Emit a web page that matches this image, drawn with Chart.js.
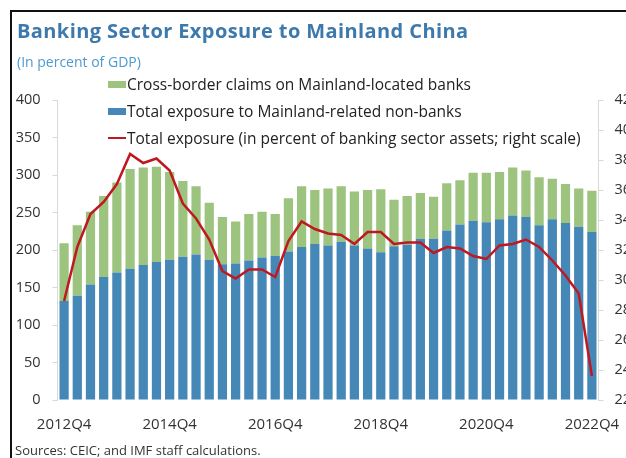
<!DOCTYPE html>
<html>
<head>
<meta charset="utf-8">
<script src="https://cdn.jsdelivr.net/npm/chart.js@4.4.0/dist/chart.umd.min.js"></script>
<style>
  html, body { margin: 0; padding: 0; background: #fff; }
  body { width: 626px; height: 458px; position: relative; overflow: hidden; font-family: "Open Sans", sans-serif; }
  #frame { position: absolute; left: 10px; top: 10px; width: 700px; height: 500px; border-left: 2px solid #111; border-top: 2px solid #111; box-sizing: border-box; }
  #wrap { position: absolute; left: 0; top: 0; width: 626px; height: 458px; }
  #title { position: absolute; left: 17px; top: 21px; font-size: 20px; line-height: 20px; font-weight: bold; color: #3e79ac; white-space: nowrap; letter-spacing: 0.4px; }
  #subtitle { position: absolute; left: 17px; top: 52px; font-size: 14px; color: #4d9ad0; white-space: nowrap; }
  #legend { position: absolute; left: 108px; top: 74px; font-size: 15.5px; color: #222; }
  .li { position: absolute; left: 0; white-space: nowrap; height: 20px; line-height: 20px; }
  .mk { position: absolute; left: 0; }
  .li span.tx { position: absolute; left: 19px; top: 0; }
  #source { position: absolute; left: 15px; top: 441px; font-size: 13px; color: #333; white-space: nowrap; }
</style>
</head>
<body>
<div id="wrap"><canvas id="c" width="626" height="458"></canvas></div>
<div id="frame"></div>
<div id="title">Banking Sector Exposure to Mainland China</div>
<div id="subtitle">(In percent of GDP)</div>
<div id="legend"></div>
<div id="source">Sources: CEIC; and IMF staff calculations.</div>
<script>
const categories = [
  '2012Q4','2013Q1','2013Q2','2013Q3','2013Q4','2014Q1','2014Q2','2014Q3','2014Q4',
  '2015Q1','2015Q2','2015Q3','2015Q4','2016Q1','2016Q2','2016Q3','2016Q4',
  '2017Q1','2017Q2','2017Q3','2017Q4','2018Q1','2018Q2','2018Q3','2018Q4',
  '2019Q1','2019Q2','2019Q3','2019Q4','2020Q1','2020Q2','2020Q3','2020Q4',
  '2021Q1','2021Q2','2021Q3','2021Q4','2022Q1','2022Q2','2022Q3','2022Q4'
];
const xTickLabels = ['2012Q4','2014Q4','2016Q4','2018Q4','2020Q4','2022Q4'];
const leftTicks = { min: 0, max: 400, step: 50 };
const rightTicks = { min: 22, max: 42, step: 2 };

// Total exposure to Mainland-related non-banks (percent of GDP)
const nonBanks = [132,139,154,164,170,175,180,184,187,191,194,187,181,182,186,190,192,
  198,204,208,206,211,206,202,197,205,207,215,215,226,234,239,237,241,246,244,233,241,236,231,224];
// Total bar height (non-banks + cross-border), read from bar tops
const totalHeight = [209,233,251,272,290,308,310,311,304,292,285,263,244,238,248,251,248,
  269,285,280,282,285,278,280,281,267,272,276,271,289,293,303,303,304,310,306,297,295,288,282,279];
// Cross-border claims on Mainland-located banks = total minus non-banks
const crossBorder = totalHeight.map((t, i) => t - nonBanks[i]);
// Total exposure in percent of banking sector assets (right scale)
const pctAssets = [28.6,32.2,34.4,35.2,36.4,38.4,37.8,38.1,37.3,35.1,34.1,32.7,30.6,30.1,30.7,30.7,30.2,
  32.6,33.9,33.4,33.1,33.0,32.4,33.2,33.2,32.4,32.5,32.5,31.8,32.2,32.1,31.6,31.4,32.3,32.4,32.7,32.2,31.3,30.3,29.1,23.6];

const colBlue = '#4587b6';
const colGreen = '#9cc47f';
const colRed = '#bf1820';

const chart = new Chart(document.getElementById('c'), {
  data: {
    labels: categories,
    datasets: [
      { type: 'bar', label: 'Total exposure to Mainland-related non-banks', data: nonBanks,
        backgroundColor: colBlue, yAxisID: 'y', stack: 's', order: 2,
        barPercentage: 0.7, categoryPercentage: 1.0 },
      { type: 'bar', label: 'Cross-border claims on Mainland-located banks', data: crossBorder,
        backgroundColor: colGreen, yAxisID: 'y', stack: 's', order: 2,
        barPercentage: 0.7, categoryPercentage: 1.0 },
      { type: 'line', label: 'Total exposure (in percent of banking sector assets; right scale)', data: pctAssets,
        borderColor: colRed, backgroundColor: colRed, borderWidth: 2.5, pointRadius: 0, tension: 0,
        yAxisID: 'y1', order: 0 }
    ]
  },
  options: {
    responsive: false,
    animation: false,
    devicePixelRatio: 1,
    layout: { padding: { top: 100, bottom: 18, left: 0, right: 0 } },
    plugins: { legend: { display: false }, title: { display: false }, tooltip: { enabled: false } },
    scales: {
      x: {
        stacked: true,
        grid: { display: false },
        border: { display: false },
        ticks: {
          autoSkip: false, maxRotation: 0, minRotation: 0, padding: 8,
          color: '#333', font: { family: 'Open Sans', size: 15 },
          callback: function(v, i) { const l = categories[i]; return xTickLabels.includes(l) ? l : ''; }
        },
        afterFit: s => { s.height = 40; s.paddingLeft = 0; s.paddingRight = 0; }
      },
      y: {
        position: 'left', stacked: true,
        min: leftTicks.min, max: leftTicks.max,
        grid: { drawOnChartArea: false, color: '#d9d9d9', tickLength: 5 },
        border: { display: true, color: '#d9d9d9' },
        ticks: { stepSize: leftTicks.step, padding: 12, color: '#333', font: { family: 'Open Sans', size: 14.5 } },
        afterFit: s => { s.width = 57.5; }
      },
      y1: {
        position: 'right', stacked: false,
        min: rightTicks.min, max: rightTicks.max,
        grid: { drawOnChartArea: false, color: '#d9d9d9', tickLength: 5 },
        border: { display: true, color: '#d9d9d9' },
        ticks: { stepSize: rightTicks.step, padding: 11, color: '#333', font: { family: 'Open Sans', size: 14.5 } },
        afterFit: s => { s.width = 27.5; }
      }
    }
  }
});

// HTML legend built from the chart's datasets
const legendOrder = [1, 0, 2];
const legendEl = document.getElementById('legend');
legendOrder.forEach((di, row) => {
  const ds = chart.data.datasets[di];
  const item = document.createElement('div');
  item.className = 'li';
  item.style.top = (row * 27) + 'px';
  const mk = document.createElement('div');
  mk.className = 'mk';
  if (ds.type === 'line') {
    mk.style.cssText = 'left:0;top:9px;width:18px;height:2px;background:' + ds.borderColor;
  } else {
    mk.style.cssText = 'left:0;top:7px;width:18px;height:7px;background:' + ds.backgroundColor;
  }
  const tx = document.createElement('span');
  tx.className = 'tx';
  tx.textContent = ds.label;
  item.appendChild(mk);
  item.appendChild(tx);
  legendEl.appendChild(item);
});
</script>
</body>
</html>
